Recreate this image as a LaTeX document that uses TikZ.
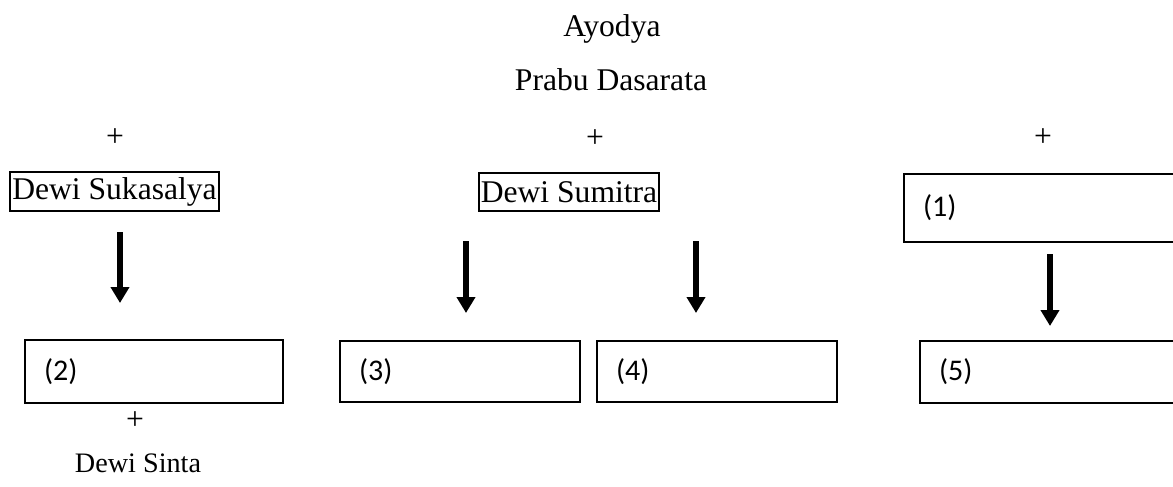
\documentclass[tikz,border=0pt]{standalone}
\usepackage{fontspec}
\setmainfont{Liberation Serif}
\newfontfamily\calib{Carlito}
\usetikzlibrary{arrows.meta}
\tikzset{
  txt/.style={inner sep=0pt, font=\fontsize{31.6}{36}\selectfont},
  namebox/.style={draw, line width=2pt, inner sep=0pt, minimum height=39pt, font=\fontsize{31.6}{36}\selectfont},
  numbox/.style={draw, line width=2pt, anchor=north west, inner xsep=19pt, inner ysep=0pt, align=left, font=\calib\fontsize{30}{33}\selectfont},
  downarrow/.style={line width=6pt, -{Triangle[width=18pt,length=16pt]}}
}
\begin{document}
\begin{tikzpicture}[x=1pt,y=-1pt]
\useasboundingbox (0,0) rectangle (1173,487);
\clip (0,0) rectangle (1173,487);
% titles
\node[txt, anchor=base] (ayodya) at (612,37) {Ayodya};
\node[txt, anchor=base] (prabu) at (611,91) {Prabu Dasarata};
% plus signs
\node[txt] (p1) at (115,138) {+};
\node[txt] (p2) at (595,139) {+};
\node[txt] (p3) at (1043,138) {+};
% wives
\node[namebox, minimum width=209pt] (suka) at (114.5,191.5) {Dewi Sukasalya};
\node[namebox, minimum width=180pt, minimum height=38pt] (sumi) at (569,192) {Dewi Sumitra};
\node[numbox, text width=244pt, minimum height=68pt] (b1) at (903,173) {(1)};
% children
\node[numbox, text width=220pt, minimum height=63pt] (b2) at (24,339) {(2)};
\node[numbox, text width=202pt, minimum height=61pt] (b3) at (339,340) {(3)};
\node[numbox, text width=202pt, minimum height=61pt] (b4) at (596,340) {(4)};
\node[numbox, text width=228pt, minimum height=62pt] (b5) at (919,340) {(5)};
% arrow ends
\coordinate (a1s) at (120,232);
\coordinate (a1e) at (120,303);
\coordinate (a2s) at (466,241);
\coordinate (a2e) at (466,313);
\coordinate (a3s) at (696,241);
\coordinate (a3e) at (696,313);
\coordinate (a4s) at (1050,254);
\coordinate (a4e) at (1050,326);
\draw[downarrow] (a1s) -- (a1e);
\draw[downarrow] (a2s) -- (a2e);
\draw[downarrow] (a3s) -- (a3e);
\draw[downarrow] (a4s) -- (a4e);
% bottom
\node[txt] (p4) at (135,421) {+};
\node[txt, anchor=base, font=\fontsize{28.2}{32}\selectfont] (sinta) at (138,472) {Dewi Sinta};
\end{tikzpicture}
\end{document}
